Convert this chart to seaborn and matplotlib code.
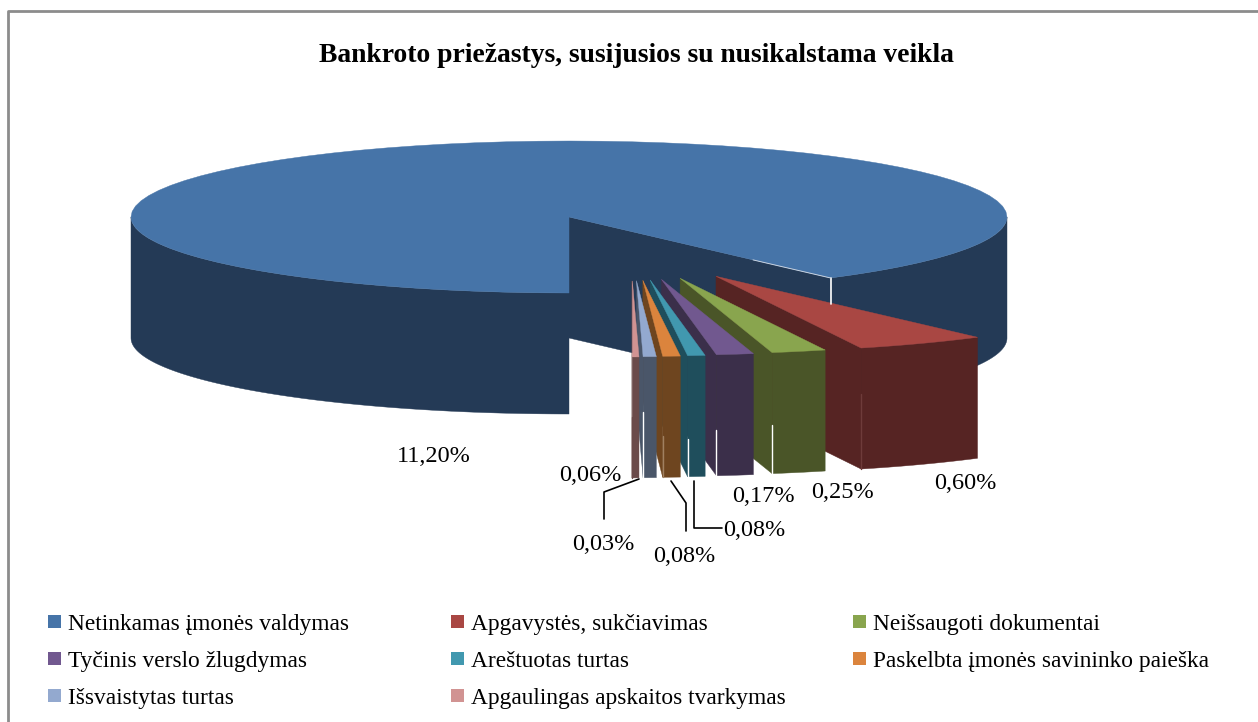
import numpy as np
import matplotlib
matplotlib.use("Agg")
import matplotlib.pyplot as plt
from matplotlib.patches import Polygon, Rectangle
import seaborn as sns

title = "Bankroto priežastys, susijusios su nusikalstama veikla"
categories = ["Netinkamas įmonės valdymas", "Apgavystės, sukčiavimas", "Neišsaugoti dokumentai",
              "Tyčinis verslo žlugdymas", "Areštuotas turtas", "Paskelbta įmonės savininko paieška",
              "Išsvaistytas turtas", "Apgaulingas apskaitos tvarkymas"]
values = [11.20, 0.60, 0.25, 0.17, 0.08, 0.08, 0.06, 0.03]
value_labels = ["11,20%", "0,60%", "0,25%", "0,17%", "0,08%", "0,08%", "0,06%", "0,03%"]
top_colors = ["#4674A8", "#A94743", "#89A54E", "#71588F", "#4198AF", "#DB843D", "#93A9CF", "#D19392"]
side_colors = ["#243A56", "#562423", "#4A5528", "#3B2F4A", "#1F4E5C", "#6E451F", "#4A5669", "#6B4B4A"]

sns.set_theme(style="white")
plt.rcParams["font.family"] = ["Liberation Serif", "DejaVu Serif"]

# the pie is squashed into an ellipse, all sizes in pixels of the picture
cx, cy = 569, 217
rx, ry = 438, 76
depth = 121


def arc(x0, y0, a0, a1):
    t = np.radians(np.linspace(a0, a1, 80))
    return np.column_stack([x0 + rx * np.cos(t), y0 - ry * np.sin(t)])


def draw_wedge(ax, x0, y0, a0, a1, top, side):
    down = np.array([0, depth])
    # left cut face, from the tip down to the outer edge
    tip = np.array([x0, y0])
    outer = arc(x0, y0, a0, a1)
    ax.add_patch(Polygon([tip, outer[0], outer[0] + down, tip + down], fc=side, ec=side, lw=0.3))
    # outer wall
    wall = np.vstack([outer, outer[::-1] + down])
    ax.add_patch(Polygon(wall, fc=side, ec=side, lw=0.3))
    ax.add_patch(Polygon(np.vstack([tip, outer]), fc=top, ec=top, lw=0.3))


fig = plt.figure(figsize=(12.58, 7.22), dpi=100)
ax = fig.add_axes([0, 0, 1, 1])
ax.set_xlim(0, 1258)
ax.set_ylim(722, 0)
ax.axis("off")

# chart frame, only top and left are inside the crop
ax.plot([7.5, 7.5, 1258], [722, 11, 11], color="#8C8C8C", lw=2)

angles = np.array(values) / sum(values) * 360
small_total = angles[1:].sum()
tops = sns.color_palette(top_colors)
sides = sns.color_palette(side_colors)

# big slice: runs from the cut on the right round the back to the front
a_start = -90 + small_total
a_end = -90 + 360
down = np.array([0, depth])
cut = arc(cx, cy, a_start, a_start + 0.01)[0]
centre = np.array([cx, cy])
ax.add_patch(Polygon([centre, cut, cut + down, centre + down], fc=sides[0], ec=sides[0], lw=0.3))
for a0, a1 in [(a_start, 0), (180, a_end)]:
    edge = arc(cx, cy, a0, a1)
    ax.add_patch(Polygon(np.vstack([edge, edge[::-1] + down]), fc=sides[0], ec=sides[0], lw=0.3))
ax.add_patch(Polygon(np.vstack([centre, arc(cx, cy, a_start, a_end)]), fc=tops[0], ec=tops[0], lw=0.3))
ax.plot([cut[0], cut[0]], [cut[1], cut[1] + 26], color="white", lw=1.2)
ax.plot([753, cut[0]], [cy + (753 - cx) * (cut[1] - cy) / (cut[0] - cx), cut[1]], color="#C8D2E0", lw=0.7)

# exploded small slices, drawn right to left so the left ones overlap
seam_start = [46, 72, 75, 83, 80, 55, 60]
seam_colors = ["#6E3B3A", "white", "white", "white", "#A08060", "white", "#6B4B4A"]
a = a_start
for i in range(1, len(values)):
    a1 = a
    a0 = a - angles[i]
    mid = np.radians((a0 + a1) / 2)
    tip_x = cx + 62 + 181 * np.cos(mid)
    tip_y = cy + 64 - 10 * np.cos(mid)
    draw_wedge(ax, tip_x, tip_y, a0, a1, tops[i], sides[i])
    left = arc(tip_x, tip_y, a0, a1)[0]
    ax.plot([left[0], left[0]], [left[1] + seam_start[i - 1], left[1] + depth],
            color=seam_colors[i - 1], lw=1)
    a = a0

ax.text(636, 62, title, ha="center", va="baseline", fontsize=19.9, fontweight="bold", color="black")

# data labels
label_x = [434, 965, 842, 763, 754, 684, 590, 603]
label_y = [462, 489, 498, 502, 536, 562, 481, 550]
for x, y, s in zip(label_x, label_y, value_labels):
    ax.text(x, y, s, ha="center", va="baseline", fontsize=17.5, color="black")

# leader lines
ax.plot([639, 604, 604], [479, 492, 519], color="black", lw=1.2)
ax.plot([671, 686, 686], [481, 503, 531], color="black", lw=1.2)
ax.plot([694, 694, 722], [481, 528, 528], color="black", lw=1.2)

# legend, three columns filled row by row
col_x = [48, 451, 853]
row_y = [630, 667, 704]
for i, name in enumerate(categories):
    x = col_x[i % 3]
    y = row_y[i // 3]
    ax.add_patch(Rectangle((x, y - 15), 13, 13, fc=tops[i], ec="none"))
    ax.text(x + 20, y, name, ha="left", va="baseline", fontsize=16.8, color="black")

fig.savefig("out.png", dpi=100)
